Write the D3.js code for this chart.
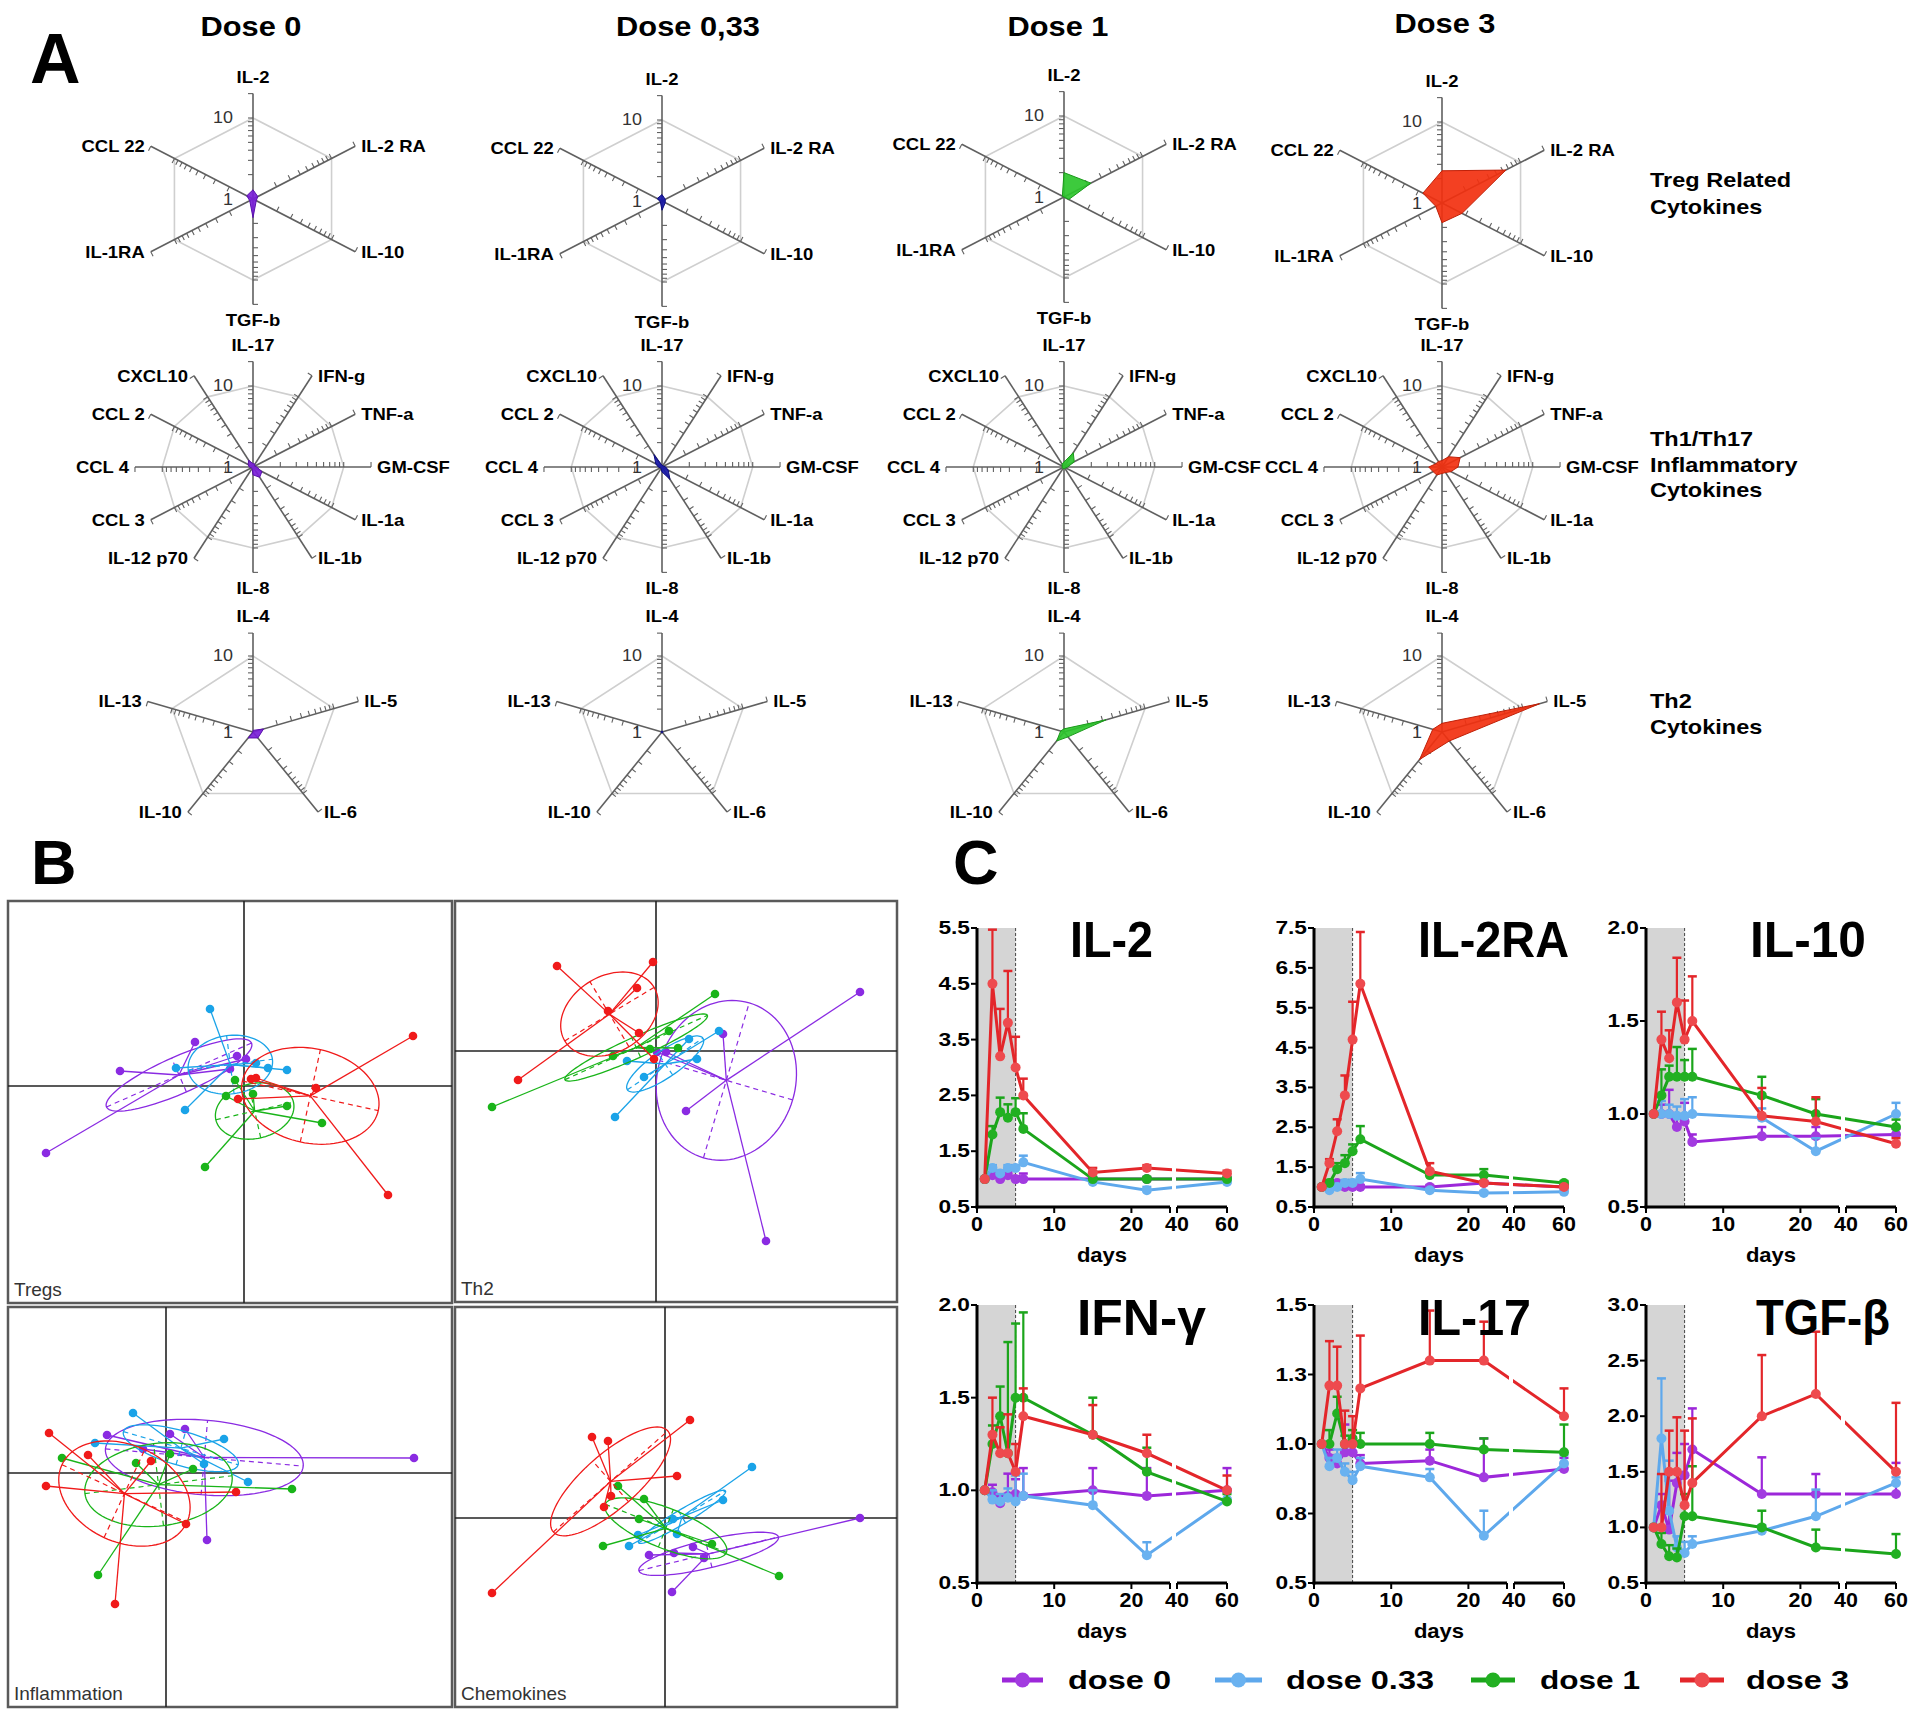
<!DOCTYPE html>
<html><head><meta charset="utf-8">
<script src="https://cdn.jsdelivr.net/npm/d3@7"></script>
<style>body{margin:0;background:#fff}</style>
</head><body>
<script>
// ================= DATA =================
// ---- Panel A (radar, log scale 1..20) ----
const doseNames = ["Dose 0", "Dose 0,33", "Dose 1", "Dose 3"];
const tregAxes = ["IL-2", "IL-2 RA", "IL-10", "TGF-b", "IL-1RA", "CCL 22"];
const th1Axes = ["IL-17", "IFN-g", "TNF-a", "GM-CSF", "IL-1a", "IL-1b", "IL-8", "IL-12 p70", "CCL 3", "CCL 4", "CCL 2", "CXCL10"];
const th2Axes = ["IL-4", "IL-5", "IL-6", "IL-10", "IL-13"];
const groupTitles = [["Treg Related", "Cytokines"], ["Th1/Th17", "Inflammatory", "Cytokines"], ["Th2", "Cytokines"]];
const tregValues = [
  [1.3, 1.15, 1.1, 1.7, 1.1, 1.2],
  [1.2, 1.1, 1.1, 1.3, 1.05, 1.15],
  [2.0, 2.2, 1.15, 1.0, 1.0, 1.05],
  [2.5, 6.5, 1.8, 1.75, 1.2, 1.75]
];
const th1Values = [
  [1.1, 1.1, 1.05, 1.1, 1.3, 1.4, 1.25, 1.05, 1.05, 1.1, 1.15, 1.25],
  [1.05, 1.05, 1.05, 1.1, 1.2, 1.5, 1.15, 1.05, 1.05, 1.1, 1.2, 1.5],
  [1.15, 1.6, 1.35, 1.1, 1.05, 1.05, 1.05, 1.05, 1.05, 1.05, 1.05, 1.1],
  [1.2, 1.4, 1.7, 1.5, 1.3, 1.2, 1.2, 1.3, 1.3, 1.4, 1.2, 1.2]
];
const th2Values = [
  [1.05, 1.35, 1.25, 1.25, 1.0],
  [1.03, 1.03, 1.03, 1.03, 1.03],
  [1.1, 3.3, 1.2, 1.4, 1.1],
  [1.3, 16, 1.4, 2.8, 1.3]
];
const radarTickValues = [2, 3, 4, 5, 6, 7, 8, 9, 10];
const radarMax = 20;
const radarRing = 10;

// ---- Panel B (class scatter plots) ----
const pcaPanels = ["Tregs", "Th2", "Inflammation", "Chemokines"];
const pcaXDomain = [[-2.36, 2.08], [-2.01, 2.41], [-1.58, 2.86], [-2.10, 2.32]];
const pcaYDomain = [[-2.17, 1.85], [-2.51, 1.50], [-2.34, 1.66], [-1.89, 2.11]];
// classes order: dose 0 (purple), dose 0.33 (blue), dose 1 (green), dose 3 (red)
const pcaTregs = [
  [[-1.98, -0.67], [-1.24, 0.15], [-0.49, 0.44], [-0.07, 0.30], [0.02, 0.27], [-0.14, 0.17]],
  [[-0.34, 0.77], [-0.68, 0.18], [-0.59, -0.24], [0.12, 0.23], [0.24, 0.18], [0.43, 0.16]],
  [[-0.09, 0.06], [-0.18, -0.10], [0.09, -0.08], [0.43, -0.20], [0.78, -0.37], [-0.39, -0.81]],
  [[1.69, 0.50], [0.72, -0.02], [0.07, 0.07], [0.12, 0.08], [-0.06, -0.13], [1.44, -1.09]]
];
const pcaTh2 = [
  [[2.04, 0.59], [0.67, 0.17], [0.10, -0.01], [0.30, -0.60], [1.10, -1.90], [0.01, -0.01]],
  [[0.63, 0.20], [0.33, 0.12], [0.41, -0.08], [-0.29, -0.10], [-0.12, -0.26], [-0.41, -0.66]],
  [[0.59, 0.57], [0.13, 0.20], [0.22, 0.03], [-0.43, -0.05], [-1.64, -0.56], [-0.06, 0.02]],
  [[-0.99, 0.85], [-0.03, 0.89], [-0.19, 0.63], [-0.48, 0.40], [-0.17, 0.18], [-1.38, -0.29], [-0.02, -0.08]]
];
const pcaInflammation = [
  [[2.48, 0.15], [-0.59, 0.38], [0.19, 0.44], [0.04, 0.39], [-0.23, 0.24], [0.41, -0.67]],
  [[-0.33, 0.60], [-0.71, 0.30], [0.58, 0.34], [0.82, -0.09], [0.38, 0.09]],
  [[-1.04, 0.15], [-0.30, 0.10], [0.27, 0.04], [1.26, -0.16], [-0.68, -1.02], [0.04, 0.19]],
  [[-1.17, 0.40], [-1.20, -0.13], [-0.78, 0.18], [-0.15, 0.12], [0.70, -0.19], [0.20, -0.51], [-0.51, -1.31]]
];
const pcaChemokines = [
  [[1.95, 0.00], [-0.16, -0.37], [0.09, -0.35], [0.28, -0.29], [0.39, -0.40], [0.07, -0.74]],
  [[0.87, 0.51], [0.58, 0.18], [0.08, -0.01], [0.12, -0.16], [-0.27, -0.17], [-0.36, -0.28]],
  [[-0.47, 0.32], [-0.21, 0.19], [-0.26, -0.01], [-0.62, -0.28], [0.47, -0.26], [1.14, -0.58]],
  [[0.25, 0.98], [-0.73, 0.81], [-0.57, 0.77], [0.12, 0.42], [-0.54, 0.22], [-0.61, 0.11], [-1.73, -0.75]]
];

// ---- Panel C (time courses) ----
const days = [1, 2, 3, 4, 5, 6, 15, 22, 60];
const doseLegend = ["dose 0", "dose 0.33", "dose 1", "dose 3"];
const cytokines = ["IL-2", "IL-2RA", "IL-10", "IFN-γ", "IL-17", "TGF-β"];
const yDomains = [[0.5, 5.5], [0.5, 7.5], [0.5, 2.0], [0.5, 2.0], [0.5, 1.5], [0.5, 3.0]];
const yTickValues = [
  [0.5, 1.5, 2.5, 3.5, 4.5, 5.5],
  [0.5, 1.5, 2.5, 3.5, 4.5, 5.5, 6.5, 7.5],
  [0.5, 1.0, 1.5, 2.0],
  [0.5, 1.0, 1.5, 2.0],
  [0.5, 0.75, 1.0, 1.25, 1.5],
  [0.5, 1.0, 1.5, 2.0, 2.5, 3.0]
];
const yTickLabels = [
  ["0.5", "1.5", "2.5", "3.5", "4.5", "5.5"],
  ["0.5", "1.5", "2.5", "3.5", "4.5", "5.5", "6.5", "7.5"],
  ["0.5", "1.0", "1.5", "2.0"],
  ["0.5", "1.0", "1.5", "2.0"],
  ["0.5", "0.8", "1.0", "1.3", "1.5"],
  ["0.5", "1.0", "1.5", "2.0", "2.5", "3.0"]
];
const xTickValues = [0, 10, 20, 40, 60];
const xTickLabels = ["0", "10", "20", "40", "60"];
const xBreak = [25, 40];
const treatmentEnd = 5;

const il2Mean = [
  [1.0, 1.07, 1.0, 1.07, 1.0, 1.0, 1.0, 1.0, 1.0],
  [1.0, 1.2, 1.1, 1.2, 1.2, 1.3, 0.95, 0.8, 0.95],
  [1.0, 1.8, 2.2, 2.1, 2.2, 1.9, 1.0, 1.0, 1.0],
  [1.0, 4.5, 3.2, 3.8, 3.0, 2.5, 1.12, 1.2, 1.1]
];
const il2Err = [
  [0, 0.05, 0.05, 0.05, 0.05, 0.1, 0.03, 0.03, 0.03],
  [0, 0.05, 0.05, 0.05, 0.05, 0.12, 0.04, 0.06, 0.04],
  [0, 0.15, 0.26, 0.24, 0.25, 0.28, 0.04, 0.04, 0.04],
  [0, 0.97, 0.85, 0.93, 0.55, 0.3, 0.08, 0.05, 0.05]
];
const il2raMean = [
  [1.0, 1.05, 1.1, 1.0, 1.0, 1.0, 1.0, 1.1, 1.0],
  [1.0, 0.92, 1.0, 1.1, 1.1, 1.2, 0.92, 0.85, 0.88],
  [1.0, 1.1, 1.45, 1.6, 1.9, 2.2, 1.3, 1.3, 1.1],
  [1.0, 1.6, 2.4, 3.3, 4.7, 6.1, 1.4, 1.1, 1.0]
];
const il2raErr = [
  [0, 0.05, 0.05, 0.05, 0.05, 0.05, 0.05, 0.05, 0.05],
  [0, 0.05, 0.08, 0.08, 0.08, 0.15, 0.05, 0.05, 0.05],
  [0, 0.08, 0.15, 0.2, 0.17, 0.33, 0.1, 0.15, 0.05],
  [0, 0.1, 0.3, 0.5, 0.95, 1.3, 0.2, 0.05, 0.05]
];
const il10Mean = [
  [1.0, 1.0, 1.0, 0.93, 0.96, 0.85, 0.88, 0.88, 0.89],
  [1.0, 1.0, 1.0, 0.99, 0.99, 1.0, 0.98, 0.8, 1.0],
  [1.0, 1.1, 1.2, 1.2, 1.2, 1.2, 1.1, 1.0, 0.93],
  [1.0, 1.4, 1.3, 1.6, 1.4, 1.5, 0.99, 0.96, 0.84]
];
const il10Err = [
  [0, 0.05, 0.13, 0.05, 0.1, 0.04, 0.05, 0.05, 0.03],
  [0, 0.07, 0.05, 0.05, 0.09, 0.09, 0.05, 0.07, 0.06],
  [0, 0.14, 0.06, 0.16, 0.09, 0.15, 0.1, 0.08, 0.04],
  [0, 0.15, 0.15, 0.24, 0.21, 0.24, 0.15, 0.13, 0.03]
];
const ifngMean = [
  [1.0, 0.99, 0.93, 0.97, 0.98, 0.97, 1.0, 0.97, 1.0],
  [1.0, 0.95, 0.94, 0.96, 0.94, 0.97, 0.92, 0.65, 0.95],
  [1.0, 1.25, 1.4, 1.2, 1.5, 1.5, 1.3, 1.1, 0.94],
  [1.0, 1.3, 1.2, 1.2, 1.1, 1.4, 1.3, 1.2, 1.0]
];
const ifngErr = [
  [0, 0.04, 0.04, 0.12, 0.08, 0.15, 0.12, 0.15, 0.12],
  [0, 0.05, 0.04, 0.05, 0.14, 0.12, 0.08, 0.07, 0.04],
  [0, 0.1, 0.16, 0.6, 0.4, 0.46, 0.2, 0.13, 0.04],
  [0, 0.2, 0.14, 0.21, 0.15, 0.15, 0.16, 0.1, 0.08]
];
const il17Mean = [
  [1.0, 0.95, 0.93, 0.97, 0.97, 0.93, 0.94, 0.88, 0.91],
  [1.0, 0.92, 0.95, 0.9, 0.87, 0.92, 0.88, 0.67, 0.93],
  [1.0, 1.0, 1.11, 1.0, 1.02, 1.0, 1.0, 0.98, 0.97],
  [1.0, 1.21, 1.21, 1.0, 1.0, 1.2, 1.3, 1.3, 1.1]
];
const il17Err = [
  [0, 0.03, 0.03, 0.1, 0.03, 0.03, 0.04, 0.14, 0.04],
  [0, 0.03, 0.03, 0.03, 0.03, 0.03, 0.03, 0.09, 0.03],
  [0, 0.05, 0.06, 0.03, 0.03, 0.04, 0.04, 0.04, 0.1],
  [0, 0.16, 0.14, 0.12, 0.1, 0.19, 0.18, 0.14, 0.1]
];
const tgfbMean = [
  [1.0, 1.2, 0.98, 1.4, 1.47, 1.7, 1.3, 1.3, 1.3],
  [1.0, 1.8, 1.15, 0.82, 0.77, 0.85, 0.97, 1.1, 1.4],
  [1.0, 0.85, 0.74, 0.73, 1.1, 1.1, 1.0, 0.82, 0.76],
  [1.0, 1.0, 1.5, 1.5, 1.2, 1.4, 2.0, 2.2, 1.5]
];
const tgfbErr = [
  [0, 0.1, 0.44, 0.27, 0.28, 0.37, 0.33, 0.18, 0.28],
  [0, 0.54, 0.45, 0.1, 0.1, 0.07, 0.05, 0.24, 0.05],
  [0, 0.1, 0.1, 0.08, 0.2, 0.45, 0.15, 0.16, 0.18],
  [0, 0.48, 0.37, 0.49, 0.67, 0.58, 0.55, 0.56, 0.62]
];

// ================= STYLE / LAYOUT =================
const radarColors = ["#7A1ED8", "#1818A8", "#2CC52C", "#F2300F"];
const radarStroke = ["#5a0fae", "#0d0d80", "#1a9a1a", "#c02008"];
const pcaColors = ["#8A2BE2", "#1AA3E8", "#19B419", "#F01A1A"];
const lineColors = ["#9C27D9", "#5EA8EC", "#1BA51B", "#E3262A"];
const markColors = ["#A23BE0", "#6AB2F0", "#22B022", "#EE4A4E"];

const W = 1920, H = 1716;
const svg = d3.select("body").append("svg")
  .attr("width", W).attr("height", H)
  .attr("font-family", "'Liberation Sans', Arial, sans-serif");
svg.append("rect").attr("width", W).attr("height", H).attr("fill", "#fff");

function txt(g, x, y, s, o = {}) {
  const t = g.append("text")
    .attr("transform", `translate(${x},${y}) scale(${o.sx || 1},1)`)
    .attr("text-anchor", o.anchor || "start")
    .attr("font-size", o.size || 16)
    .attr("font-weight", o.weight || "normal")
    .attr("fill", o.fill || "#000")
    .text(s);
  if (o.len) t.attr("textLength", o.len).attr("lengthAdjust", "spacingAndGlyphs");
  return t;
}

// ================= PANEL A =================
const gA = svg.append("g");
txt(gA, 30, 83, "A", {size: 70, weight: "bold"});
const radarCX = [253, 662, 1064, 1442];
const radarRowY = [199, 467, 732];
const radarColDy = [[0, 2, -2, 4], [0, 0, 0, 0], [0, 0, 0, 0]];
const radarR10 = [81, 81, 76];
const titleX = [251, 688, 1058, 1445];
const titleY = [36, 36, 36, 33];
doseNames.forEach((d, i) => txt(gA, titleX[i], titleY[i], d, {size: 27.5, weight: "bold", anchor: "middle", sx: 1.12}));

const SX = 1.12;
function drawRadar(cx, cy, axes, vals, ci, R10) {
  const g = gA.append("g");
  const n = axes.length;
  const r = d3.scaleLog().domain([1, radarRing]).range([0, R10]);
  const ang = i => -Math.PI / 2 + i * 2 * Math.PI / n;
  const pt = (i, v) => [cx + SX * r(Math.max(1, v)) * Math.cos(ang(i)), cy + r(Math.max(1, v)) * Math.sin(ang(i))];
  g.append("path").attr("d", d3.line()(axes.map((a, i) => pt(i, radarRing))) + "Z")
    .attr("fill", "none").attr("stroke", "#cfcfcf").attr("stroke-width", 1.6);
  axes.forEach((a, i) => {
    const e = pt(i, radarMax);
    g.append("line").attr("x1", cx).attr("y1", cy).attr("x2", e[0]).attr("y2", e[1])
      .attr("stroke", "#606060").attr("stroke-width", 1.6);
    const L = Math.hypot(e[0] - cx, e[1] - cy);
    const dx = (e[0] - cx) / L, dy = (e[1] - cy) / L;
    const px = dy, py = -dx;
    radarTickValues.concat([radarMax]).forEach(v => {
      const p = pt(i, v);
      g.append("line").attr("x1", p[0]).attr("y1", p[1]).attr("x2", p[0] + px * 5).attr("y2", p[1] + py * 5)
        .attr("stroke", "#606060").attr("stroke-width", 1.1);
    });
    const c = Math.cos(ang(i)), s = Math.sin(ang(i));
    if (Math.abs(c) < 0.1) {
      txt(g, e[0], s < 0 ? e[1] - 11 : e[1] + 22, a, {size: 16.5, weight: "bold", anchor: "middle", sx: SX});
    } else {
      txt(g, e[0] + (c > 0 ? 6 : -6), e[1] + 6, a, {size: 16.5, weight: "bold", anchor: c > 0 ? "start" : "end", sx: SX});
    }
  });
  txt(g, cx - 20, cy - R10 + 5, "10", {size: 16, anchor: "end", fill: "#333", sx: SX});
  txt(g, cx - 20, cy + 6, "1", {size: 16, anchor: "end", fill: "#333", sx: SX});
  g.append("path").attr("d", d3.line()(vals.map((v, i) => pt(i, v))) + "Z")
    .attr("fill", radarColors[ci]).attr("fill-opacity", 0.92)
    .attr("stroke", radarStroke[ci]).attr("stroke-width", 1);
}
const radarSets = [[tregAxes, tregValues], [th1Axes, th1Values], [th2Axes, th2Values]];
radarSets.forEach(([axes, vals], row) => {
  doseNames.forEach((d, col) => {
    drawRadar(radarCX[col], radarRowY[row] + radarColDy[row][col], axes, vals[col], col, radarR10[row]);
  });
});
const groupY = [[187, 214], [446, 472, 497], [708, 734]];
groupTitles.forEach((lines, k) => lines.forEach((l, j) =>
  txt(gA, 1650, groupY[k][j], l, {size: 21, weight: "bold", sx: SX})));

// ================= PANEL B =================
const gB = svg.append("g");
txt(gB, 31, 884, "B", {size: 63, weight: "bold"});
const pcaData = [pcaTregs, pcaTh2, pcaInflammation, pcaChemokines];
const pcaFrames = [[8, 901, 452, 1303], [455, 901, 897, 1302], [8, 1307, 452, 1707], [455, 1307, 897, 1707]];
pcaPanels.forEach((name, k) => {
  const [x0, y0, x1, y1] = pcaFrames[k];
  const g = gB.append("g");
  const xs = d3.scaleLinear().domain(pcaXDomain[k]).range([x0, x1]);
  const ys = d3.scaleLinear().domain(pcaYDomain[k]).range([y1, y0]);
  g.append("rect").attr("x", x0).attr("y", y0).attr("width", x1 - x0).attr("height", y1 - y0)
    .attr("fill", "#fff").attr("stroke", "#5a5a5a").attr("stroke-width", 2.5);
  g.append("line").attr("x1", xs(0)).attr("x2", xs(0)).attr("y1", y0).attr("y2", y1).attr("stroke", "#222").attr("stroke-width", 1.6);
  g.append("line").attr("x1", x0).attr("x2", x1).attr("y1", ys(0)).attr("y2", ys(0)).attr("stroke", "#222").attr("stroke-width", 1.6);
  pcaData[k].forEach((pts, ci) => {
    const col = pcaColors[ci];
    const mx = d3.mean(pts, p => p[0]), my = d3.mean(pts, p => p[1]);
    const a = d3.mean(pts, p => (p[0] - mx) ** 2);
    const c = d3.mean(pts, p => (p[1] - my) ** 2);
    const b = d3.mean(pts, p => (p[0] - mx) * (p[1] - my));
    const tr = (a + c) / 2, dd = Math.sqrt(((a - c) / 2) ** 2 + b * b);
    const l1 = tr + dd, l2 = Math.max(tr - dd, 0);
    const th = 0.5 * Math.atan2(2 * b, a - c);
    const r1 = Math.sqrt(l1), r2 = Math.sqrt(l2);
    const ell = d3.range(0, 101).map(t => {
      const u = t / 100 * 2 * Math.PI;
      const ex = mx + r1 * Math.cos(th) * Math.cos(u) - r2 * Math.sin(th) * Math.sin(u);
      const ey = my + r1 * Math.sin(th) * Math.cos(u) + r2 * Math.cos(th) * Math.sin(u);
      return [xs(ex), ys(ey)];
    });
    g.append("path").attr("d", d3.line()(ell)).attr("fill", "none").attr("stroke", col).attr("stroke-width", 1.3);
    [[r1, th], [r2, th + Math.PI / 2]].forEach(([rr, t]) => {
      g.append("line")
        .attr("x1", xs(mx - rr * Math.cos(t))).attr("y1", ys(my - rr * Math.sin(t)))
        .attr("x2", xs(mx + rr * Math.cos(t))).attr("y2", ys(my + rr * Math.sin(t)))
        .attr("stroke", col).attr("stroke-width", 1.2).attr("stroke-dasharray", "5,4");
    });
    pts.forEach(p => g.append("line").attr("x1", xs(mx)).attr("y1", ys(my)).attr("x2", xs(p[0])).attr("y2", ys(p[1]))
      .attr("stroke", col).attr("stroke-width", 1.3));
    pts.forEach(p => g.append("circle").attr("cx", xs(p[0])).attr("cy", ys(p[1])).attr("r", 4.3).attr("fill", col));
  });
  txt(g, x0 + 6, y1 - 7, name, {size: 19, fill: "#333"});
});

// ================= PANEL C =================
const gC = svg.append("g");
txt(gC, 953, 884, "C", {size: 63, weight: "bold"});
const cMeans = [il2Mean, il2raMean, il10Mean, ifngMean, il17Mean, tgfbMean];
const cErrs = [il2Err, il2raErr, il10Err, ifngErr, il17Err, tgfbErr];
const cX0 = [977, 1314, 1646];
const cTop = [928, 1305], cBot = [1207, 1583];
const titleLayout = [[1153, 83], [1569, 151], [1866, 116], [1206, 129], [1531, 113], [1890, 134]];
const titleBase = [957, 1335];

cytokines.forEach((name, k) => {
  const row = Math.floor(k / 3), colI = k % 3;
  const x0 = cX0[colI], yT = cTop[row], yB = cBot[row];
  const g = gC.append("g");
  const xs = d3.scaleLinear().domain([0, xBreak[0], xBreak[1], 60]).range([x0, x0 + 193, x0 + 200, x0 + 250]);
  const ys = d3.scaleLinear().domain(yDomains[k]).range([yB, yT]);
  g.append("rect").attr("x", xs(0)).attr("y", yT).attr("width", xs(treatmentEnd) - xs(0)).attr("height", yB - yT).attr("fill", "#d5d5d5");
  g.append("line").attr("x1", xs(treatmentEnd)).attr("x2", xs(treatmentEnd)).attr("y1", yT).attr("y2", yB)
    .attr("stroke", "#444").attr("stroke-width", 1).attr("stroke-dasharray", "3,2");
  cMeans[k].forEach((vals, ci) => {
    const errs = cErrs[k][ci];
    const col = lineColors[ci];
    g.append("path").attr("d", d3.line()(days.map((d, i) => [xs(d), ys(vals[i])])))
      .attr("fill", "none").attr("stroke", col).attr("stroke-width", 3);
    days.forEach((d, i) => {
      if (errs[i] > 0) {
        const x = xs(d), yv = ys(vals[i]), ye = ys(vals[i] + errs[i]);
        g.append("line").attr("x1", x).attr("x2", x).attr("y1", yv).attr("y2", ye).attr("stroke", col).attr("stroke-width", 2.2);
        g.append("line").attr("x1", x - 4.5).attr("x2", x + 4.5).attr("y1", ye).attr("y2", ye).attr("stroke", col).attr("stroke-width", 2.5);
      }
    });
    days.forEach((d, i) => g.append("circle").attr("cx", xs(d)).attr("cy", ys(vals[i])).attr("r", 5).attr("fill", markColors[ci]));
  });
  g.append("rect").attr("x", xs(xBreak[0]) + 2).attr("y", yT).attr("width", 4).attr("height", yB - yT - 3).attr("fill", "#fff");
  g.append("line").attr("x1", x0).attr("x2", x0).attr("y1", yT).attr("y2", yB + 1.5).attr("stroke", "#000").attr("stroke-width", 3);
  yTickValues[k].forEach((v, i) => {
    g.append("line").attr("x1", x0 - 6).attr("x2", x0).attr("y1", ys(v)).attr("y2", ys(v)).attr("stroke", "#000").attr("stroke-width", 2);
    txt(g, x0 - 7, ys(v) + 6, yTickLabels[k][i], {size: 17.5, weight: "bold", anchor: "end", sx: 1.3});
  });
  [[0, xBreak[0]], [xBreak[1], 60]].forEach(([a, b]) => {
    g.append("line").attr("x1", xs(a) - (a === 0 ? 1.5 : 0)).attr("x2", xs(b)).attr("y1", yB).attr("y2", yB).attr("stroke", "#000").attr("stroke-width", 3);
  });
  xTickValues.concat([xBreak[0]]).forEach(v => {
    g.append("line").attr("x1", xs(v)).attr("x2", xs(v)).attr("y1", yB).attr("y2", yB + 6).attr("stroke", "#000").attr("stroke-width", 2);
  });
  xTickValues.forEach((v, i) => txt(g, xs(v), yB + 24, xTickLabels[i], {size: 19.5, weight: "bold", anchor: "middle", sx: 1.1}));
  txt(g, x0 + 125, yB + 55, "days", {size: 21, weight: "bold", anchor: "middle", sx: 1.05});
  const [tr, tw] = titleLayout[k];
  txt(g, tr - tw, titleBase[row], name, {size: 50, weight: "bold", len: tw});
});

const legLine = [[1002, 1043], [1215, 1262], [1471, 1515], [1680, 1724]];
const legText = [[1068, 103], [1286, 148], [1540, 100], [1746, 103]];
doseLegend.forEach((d, i) => {
  const [a, b] = legLine[i];
  gC.append("line").attr("x1", a).attr("x2", b).attr("y1", 1680).attr("y2", 1680).attr("stroke", lineColors[i]).attr("stroke-width", 5);
  gC.append("circle").attr("cx", (a + b) / 2).attr("cy", 1680).attr("r", 7.5).attr("fill", markColors[i]);
  txt(gC, legText[i][0], 1689, d, {size: 26, weight: "bold", len: legText[i][1]});
});
</script>
</body></html>
